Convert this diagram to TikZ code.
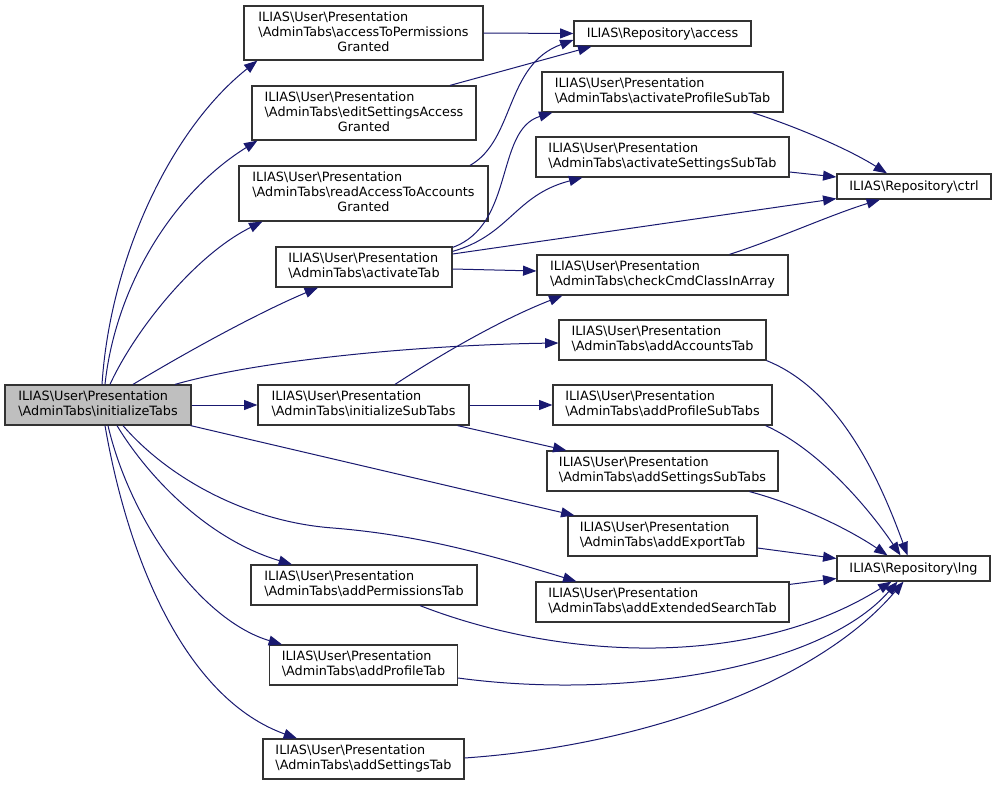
\documentclass[tikz,border=0pt]{standalone}
\usepackage{fontspec}
\setmainfont{DejaVu Sans}
\usetikzlibrary{arrows.meta}
\definecolor{edgecol}{HTML}{191970}
\definecolor{boxcol}{HTML}{333333}
\definecolor{rootfill}{HTML}{BFBFBF}
\newcommand\bsl{\textbackslash}
\newcommand\ap[1]{\begin{tabular}{@{}l@{}}ILIAS\bsl User\bsl Presentation\\\bsl AdminTabs\bsl #1\end{tabular}}
\newcommand\apg[1]{\begin{tabular}{@{}l@{}}ILIAS\bsl User\bsl Presentation\\\bsl AdminTabs\bsl #1\\\multicolumn{1}{@{}c@{}}{Granted}\end{tabular}}
\begin{document}
\begin{tikzpicture}[x=0.75pt,y=-0.75pt,
  fn/.style={draw=boxcol, line width=0.9pt, fill=white, inner sep=0pt,
    font=\fontsize{9.6}{11.25}\selectfont},
  wh/.style 2 args={minimum width={#1*0.75pt}, minimum height={#2*0.75pt}},
  call/.style={draw=edgecol, line width=0.75pt, -{Triangle[length=10pt,width=7.5pt]}}]
\fill[white] (0,0) rectangle (996,785);
\useasboundingbox (0,0) rectangle (996,785);
% nodes
\node[fn, wh={186}{40}, fill=rootfill] (init) at (98,405) {\ap{initializeTabs}};
\node[fn, wh={239}{54}] (accPerm) at (363.5,33) {\apg{accessToPermissions}};
\node[fn, wh={224}{54}] (editSet) at (364,113) {\apg{editSettingsAccess}};
\node[fn, wh={249}{55}] (readAcc) at (363.5,193.5) {\apg{readAccessToAccounts}};
\node[fn, wh={176}{40}] (actTab) at (364,267) {\ap{activateTab}};
\node[fn, wh={211}{40}] (initSub) at (363.5,405) {\ap{initializeSubTabs}};
\node[fn, wh={226}{40}] (addPerm) at (364,585) {\ap{addPermissionsTab}};
\node[fn, wh={188}{40}] (addProfTab) at (363.5,665) {\ap{addProfileTab}};
\node[fn, wh={201}{40}] (addSetTab) at (363.5,759) {\ap{addSettingsTab}};
\node[fn, wh={177}{25}] (access) at (662.5,33.5) {ILIAS\bsl Repository\bsl access};
\node[fn, wh={241}{40}] (actProf) at (662.5,92) {\ap{activateProfileSubTab}};
\node[fn, wh={253}{40}] (actSet) at (662.5,157) {\ap{activateSettingsSubTab}};
\node[fn, wh={251}{40}] (check) at (662.5,275) {\ap{checkCmdClassInArray}};
\node[fn, wh={207}{40}] (addAcc) at (662.5,340) {\ap{addAccountsTab}};
\node[fn, wh={219}{40}] (addProfSub) at (662.5,405) {\ap{addProfileSubTabs}};
\node[fn, wh={231}{40}] (addSetSub) at (662.5,471) {\ap{addSettingsSubTabs}};
\node[fn, wh={189}{40}] (addExport) at (662.5,536) {\ap{addExportTab}};
\node[fn, wh={253}{40}] (addExt) at (662.5,602) {\ap{addExtendedSearchTab}};
\node[fn, wh={154}{25}] (ctrl) at (914,186.5) {ILIAS\bsl Repository\bsl ctrl};
\node[fn, wh={153}{25}] (lng) at (913.5,568.5) {ILIAS\bsl Repository\bsl lng};
% edges from initializeTabs
\draw[call] ([shift={(4,0)}]init.north) .. controls (110,260) and (170,130) .. ([shift={(14,0)}]accPerm.south west);
\draw[call] ([shift={(7,0)}]init.north) .. controls (115,290) and (170,195) .. ([shift={(6,0)}]editSet.south west);
\draw[call] ([shift={(12,0)}]init.north) .. controls (135,330) and (195,255) .. ([shift={(24,0)}]readAcc.south west);
\draw[call] ([shift={(35,0)}]init.north) .. controls (190,350) and (260,312) .. ([shift={(-46,0)}]actTab.south);
\draw[call] ([shift={(77,0)}]init.north) .. controls (260,360) and (420,345) .. ([shift={(0,3)}]addAcc.west);
\draw[call] (init.east) -- (initSub.west);
\draw[call] ([shift={(-1,0)}]init.south east) -- ([shift={(7,0)}]addExport.north west);
\draw[call] ([shift={(25,0)}]init.south) .. controls (170,480) and (250,522) .. (333,528) .. controls (420,535) and (490,555) .. ([shift={(41,0)}]addExt.north west);
\draw[call] ([shift={(19,0)}]init.south) .. controls (150,480) and (210,540) .. ([shift={(-72,0)}]addPerm.north);
\draw[call] ([shift={(10,0)}]init.south) .. controls (130,520) and (200,620) .. ([shift={(-81.5,0)}]addProfTab.north);
\draw[call] ([shift={(7,0)}]init.south) .. controls (130,570) and (190,700) .. ([shift={(-66.5,0)}]addSetTab.north);
% to access
\draw[call] (accPerm.east) -- (access.west);
\draw[call] ([shift={(86,0)}]editSet.north) -- ([shift={(18,0)}]access.south west);
\draw[call] ([shift={(106.5,0)}]readAcc.north) .. controls (515,140) and (505,65) .. ([shift={(0,6.5)}]access.west);
% from activateTab
\draw[call] ([shift={(0,1)}]actTab.north east) .. controls (515,225) and (495,130) .. ([shift={(11,0)}]actProf.south west);
\draw[call] ([shift={(0,5)}]actTab.north east) .. controls (510,235) and (515,195) .. ([shift={(47,0)}]actSet.south west);
\draw[call] ([shift={(0,-13)}]actTab.east) -- ([shift={(0,-1)}]ctrl.south west);
\draw[call] ([shift={(0,2)}]actTab.east) -- ([shift={(0,-4)}]check.west);
% to ctrl
\draw[call] ([shift={(90,0)}]actProf.south) .. controls (800,128) and (850,150) .. ([shift={(-27,0)}]ctrl.north);
\draw[call] ([shift={(0,15)}]actSet.east) -- ([shift={(0,-9.5)}]ctrl.west);
\draw[call] ([shift={(67,0)}]check.north) .. controls (780,238) and (830,215) .. ([shift={(-34,0)}]ctrl.south);
% from initializeSubTabs
\draw[call] ([shift={(31.5,0)}]initSub.north) .. controls (440,355) and (500,320) .. ([shift={(26,0)}]check.south west);
\draw[call] (initSub.east) -- (addProfSub.west);
\draw[call] ([shift={(-12,0)}]initSub.south east) -- ([shift={(20,0)}]addSetSub.north west);
% to lng
\draw[call] (addAcc.south east) .. controls (840,390) and (880,480) .. ([shift={(-6,0)}]lng.north);
\draw[call] ([shift={(-7,0)}]addProfSub.south east) .. controls (820,450) and (870,510) .. ([shift={(-13,0)}]lng.north);
\draw[call] ([shift={(87,0)}]addSetSub.south) .. controls (800,505) and (850,530) .. ([shift={(-26,0)}]lng.north);
\draw[call] ([shift={(0,12)}]addExport.east) -- ([shift={(0,-10)}]lng.west);
\draw[call] ([shift={(0,3)}]addExt.north east) -- ([shift={(0,10)}]lng.west);
\draw[call] ([shift={(56,0)}]addPerm.south) .. controls (560,660) and (750,670) .. ([shift={(-22,0)}]lng.south);
\draw[call] ([shift={(0,13)}]addProfTab.east) .. controls (620,700) and (820,670) .. ([shift={(-16,0)}]lng.south);
\draw[call] ([shift={(0,-1)}]addSetTab.east) .. controls (650,745) and (820,680) .. ([shift={(-10,0)}]lng.south);
\end{tikzpicture}
\end{document}
